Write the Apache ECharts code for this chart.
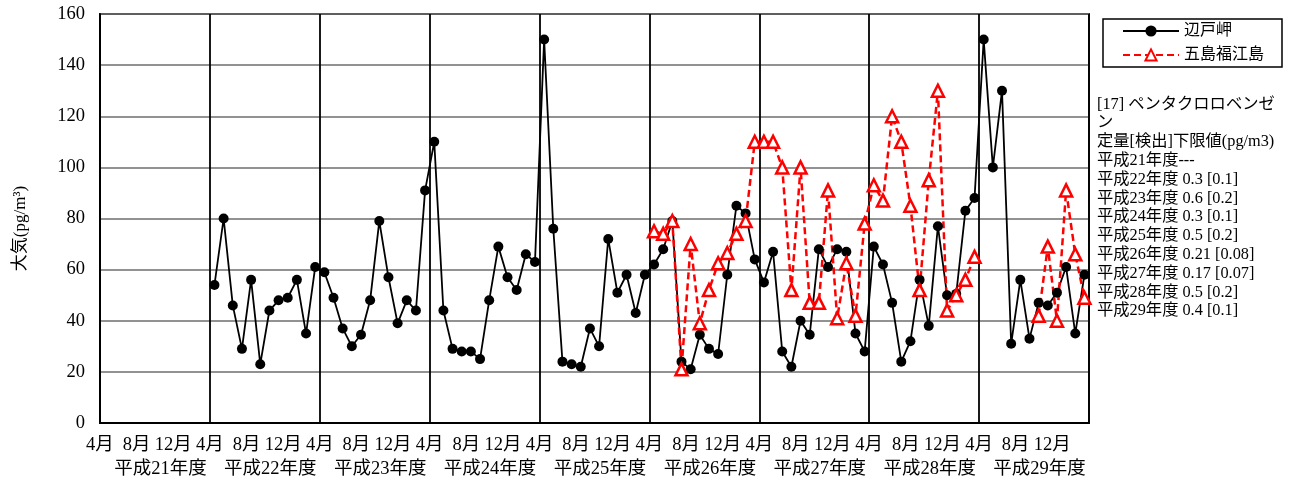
<!DOCTYPE html>
<html>
<head>
<meta charset="utf-8">
<script src="https://cdn.jsdelivr.net/npm/echarts@6/dist/echarts.min.js"></script>
<style>
html, body { margin: 0; padding: 0; background: #fff; }
#chart { width: 1290px; height: 483px; }
</style>
</head>
<body>
<div id="chart"></div>
<script>
// Fiscal years shown on the lower axis row (each spans April..March)
const fiscalYears = ['平成21年度', '平成22年度', '平成23年度', '平成24年度', '平成25年度',
                     '平成26年度', '平成27年度', '平成28年度', '平成29年度'];

// Month tick labels placed every 4 months inside each fiscal year
const monthTickLabels = ['4月', '8月', '12月'];

// Monthly concentrations (pg/m³), April of 平成21年度 onward; null = not measured
const hedoMisaki = [
  null, null, null, null, null, null, null, null, null, null, null, null,
  54, 80, 46, 29, 56, 23, 44, 48, 49, 56, 35, 61,
  59, 49, 37, 30, 34.5, 48, 79, 57, 39, 48, 44, 91,
  110, 44, 29, 28, 28, 25, 48, 69, 57, 52, 66, 63,
  150, 76, 24, 23, 22, 37, 30, 72, 51, 58, 43, 58,
  62, 68, 79, 24, 21, 34.5, 29, 27, 58, 85, 82, 64,
  55, 67, 28, 22, 40, 34.5, 68, 61, 68, 67, 35, 28,
  69, 62, 47, 24, 32, 56, 38, 77, 50, 50.5, 83, 88,
  150, 100, 130, 31, 56, 33, 47, 46, 51, 61, 35, 58
];

const gotoFukue = [
  null, null, null, null, null, null, null, null, null, null, null, null,
  null, null, null, null, null, null, null, null, null, null, null, null,
  null, null, null, null, null, null, null, null, null, null, null, null,
  null, null, null, null, null, null, null, null, null, null, null, null,
  null, null, null, null, null, null, null, null, null, null, null, null,
  75, 74, 79, 21, 70, 39, 52, 62.5, 66.5, 74, 79, 110,
  110, 110, 100, 52, 100, 47, 47, 91, 41, 62.5, 42, 78,
  93, 87, 120, 110, 85, 52, 95, 130, 44, 50, 56, 65,
  null, null, null, null, null, null, 42, 69, 40, 91, 66, 49
];

// Side note text block
const noteLines = [
  '[17] ペンタクロロベンゼ',
  'ン',
  '定量[検出]下限値(pg/m3)',
  '平成21年度---',
  '平成22年度 0.3 [0.1]',
  '平成23年度 0.6 [0.2]',
  '平成24年度 0.3 [0.1]',
  '平成25年度 0.5 [0.2]',
  '平成26年度 0.21 [0.08]',
  '平成27年度 0.17 [0.07]',
  '平成28年度 0.5 [0.2]',
  '平成29年度 0.4 [0.1]'
];

const FONT = '"Liberation Serif", "Noto Sans CJK JP", serif';
const totalMonths = fiscalYears.length * 12;

// Each month is plotted at the middle of its slot on the month axis
function toPoints(values) {
  return values.map((v, i) => [i + 0.5, v == null ? '-' : v]);
}

const chart = echarts.init(document.getElementById('chart'), null, { renderer: 'canvas' });

chart.setOption({
  animation: false,
  backgroundColor: '#fff',
  textStyle: { fontFamily: FONT },
  title: {
    left: 1097,
    top: 95,
    padding: 0,
    text: noteLines.join('\n'),
    textStyle: { fontFamily: FONT, fontSize: 16.3, fontWeight: 'normal', color: '#000', lineHeight: 18.8 }
  },
  legend: {
    orient: 'vertical',
    left: 1103,
    top: 19,
    padding: [4, 18, 4, 19],
    itemGap: 8,
    itemWidth: 56,
    itemHeight: 14,
    borderColor: '#000',
    borderWidth: 1.5,
    textStyle: { fontFamily: FONT, fontSize: 16, color: '#000', lineHeight: 16 },
    data: ['辺戸岬', '五島福江島']
  },
  grid: {
    left: 100, right: 201, top: 14, bottom: 60,
    show: true, borderColor: '#333', borderWidth: 2
  },
  xAxis: [
    {
      type: 'value',
      min: 0,
      max: totalMonths,
      interval: 4,
      axisLine: { show: true, lineStyle: { color: '#000', width: 2 } },
      axisTick: { show: false },
      splitLine: { show: false },
      axisLabel: {
        margin: 13,
        fontSize: 18.5,
        color: '#000',
        fontFamily: FONT,
        formatter: v => (v >= totalMonths ? '' : monthTickLabels[(v % 12) / 4])
      }
    },
    {
      type: 'category',
      position: 'bottom',
      data: fiscalYears,
      boundaryGap: true,
      axisLine: { show: false },
      axisTick: { show: false },
      splitLine: { show: true, interval: 0, lineStyle: { color: '#000', width: 1.8 } },
      axisLabel: {
        interval: 0,
        margin: 37,
        fontSize: 18.5,
        color: '#000',
        fontFamily: FONT,
        padding: [0, 0, 0, 11]
      }
    }
  ],
  yAxis: {
    type: 'value',
    min: 0,
    max: 160,
    interval: 20,
    name: '大気(pg/m³)',
    nameLocation: 'middle',
    nameGap: 71,
    nameTextStyle: { fontFamily: FONT, fontSize: 17, color: '#000', padding: [0, 20, 0, 0] },
    axisLine: { show: true, lineStyle: { color: '#000', width: 2 } },
    axisTick: { show: false },
    splitLine: { show: true, lineStyle: { color: '#6e6e6e', width: 1.6 } },
    axisLabel: { margin: 15, fontSize: 18.5, color: '#000', fontFamily: FONT }
  },
  series: [
    {
      name: '辺戸岬',
      type: 'line',
      xAxisIndex: 0,
      data: toPoints(hedoMisaki),
      symbol: 'circle',
      symbolSize: 10,
      lineStyle: { color: '#000', width: 1.8 },
      itemStyle: { color: '#000' }
    },
    {
      name: '五島福江島',
      type: 'line',
      xAxisIndex: 0,
      data: toPoints(gotoFukue),
      symbol: 'triangle',
      symbolSize: 12,
      lineStyle: { color: '#ff0000', width: 2.5, type: [7, 4] },
      itemStyle: { color: '#fff', borderColor: '#ff0000', borderWidth: 2.5 }
    }
  ]
});
</script>
</body>
</html>
